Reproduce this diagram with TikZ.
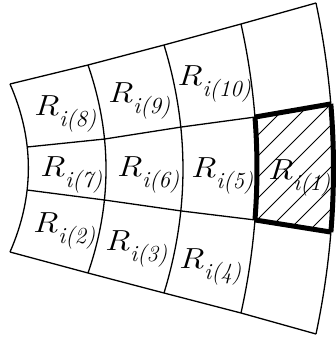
\documentclass[tikz,border=0pt]{standalone}
\usepackage{graphicx}
\usetikzlibrary{calc}
\newcommand\lab[1]{{\fontsize{29}{30}\selectfont\itshape\scalebox{1.22}[1]{R}}\kern0.5pt\raisebox{-11pt}{\fontsize{23}{23}\selectfont\itshape #1}}
\tikzset{
  gridline/.style={line width=1.3pt},
  heavy/.style={line width=5pt},
  hatchline/.style={line width=1pt},
  lbl/.style={anchor=base, inner sep=0pt}
}
\begin{document}
\begin{tikzpicture}[x=1pt,y=-1pt]
\useasboundingbox (0,0) rectangle (335,340);
% columns (arcs)
\draw[gridline] (10,84) coordinate (t1) .. controls (34.5,140) and (34.5,196) .. (10,252) coordinate (b1)
  coordinate[pos=0.375] (r11) coordinate[pos=0.631] (r21) coordinate[pos=0.5] (m1);
\draw[gridline] (88,65) coordinate (t2) .. controls (112,134.3) and (112,203.7) .. (88,273) coordinate (b2)
  coordinate[pos=0.356] (r12) coordinate[pos=0.649] (r22) coordinate[pos=0.5] (m2);
\draw[gridline] (164,45) coordinate (t3) .. controls (189.3,127.7) and (189.3,210.3) .. (164,293) coordinate (b3)
  coordinate[pos=0.331] (r13) coordinate[pos=0.669] (r23) coordinate[pos=0.5] (m3);
\draw[gridline] (241,24) coordinate (t4) .. controls (262.3,120.3) and (262.3,216.7) .. (241,313) coordinate (b4)
  coordinate[pos=0.322] (r14) coordinate[pos=0.678] (r24) coordinate[pos=0.5] (m4);
\draw[gridline] (316,3) coordinate (t5) .. controls (339.3,113.3) and (339.3,223.7) .. (316,334) coordinate (b5)
  coordinate[pos=0.305] (r15) coordinate[pos=0.692] (r25) coordinate[pos=0.5] (m5);
% rows (rays)
\draw[gridline] (t1) -- (t2) -- (t3) -- (t4) -- (t5);
\draw[gridline] (b1) -- (b2) -- (b3) -- (b4) -- (b5);
\draw[gridline] (r11) -- (r12) -- (r13) -- (r14);
\draw[gridline] (r21) -- (r22) -- (r23) -- (r24);
% labels
\node[lbl] (l8) at (65,115) {\lab{i(8)}};
\node[lbl] (l9) at (139,102) {\lab{i(9)}};
\node[lbl] (l10) at (214,85) {\lab{i(10)}};
\node[lbl] (l7) at (71,176) {\lab{i(7)}};
\node[lbl] (l6) at (148,176) {\lab{i(6)}};
\node[lbl] (l5) at (222,177) {\lab{i(5)}};
\node[lbl] (l1) at (299,179) {\lab{i(1)}};
\node[lbl] (l2) at (64,232) {\lab{i(2)}};
\node[lbl] (l3) at (136,250) {\lab{i(3)}};
\node[lbl] (l4) at (210,268) {\lab{i(4)}};
% hatching
\begin{scope}
  \clip (r14) -- (r15) -- (m5) -- (r25) -- (r24) -- (m4) -- cycle;
  \foreach \c in {351,372,...,600} \draw[hatchline] (\c-80,80) -- (\c-260,260);
\end{scope}
% heavy frame
\begin{scope}
  \clip ($(r14)!-0.5!(r15)$) -- ($(r14)!1.5!(r15)$) -- ($(r24)!1.5!(r25)$) -- ($(r24)!-0.5!(r25)$) -- cycle;
  \draw[heavy] (t4) .. controls (262.3,120.3) and (262.3,216.7) .. (b4);
  \draw[heavy] (t5) .. controls (339.3,113.3) and (339.3,223.7) .. (b5);
\end{scope}
\draw[heavy, line cap=square] (r14) -- (r15);
\draw[heavy, line cap=square] (r24) -- (r25);
\end{tikzpicture}
\end{document}
